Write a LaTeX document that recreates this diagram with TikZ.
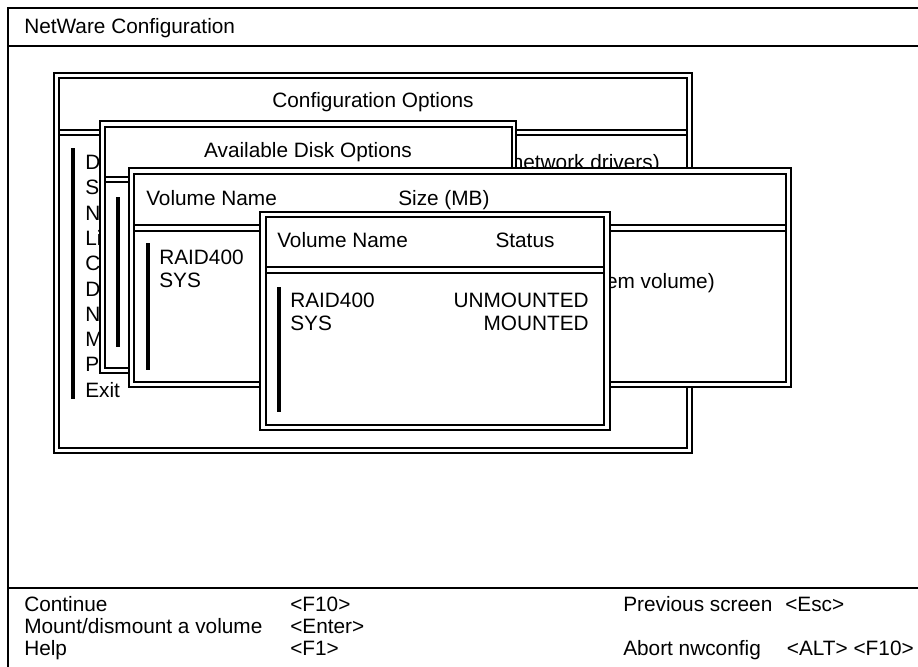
\documentclass[tikz,border=0pt]{standalone}
\usepackage{fontspec}
\setmainfont{Liberation Sans}
\usetikzlibrary{positioning}
\newcommand\scrfont{\fontsize{15.6}{18}\selectfont}
\tikzset{
  frameline/.style={line width=1.3pt},
  winline/.style={line width=0.95pt},
  winfill/.style={fill=white, line width=0.95pt},
  scrtext/.style={font=\scrfont, inner sep=0pt, anchor=base west},
  selbar/.style={line width=2.3pt},
}

\begin{document}
\begin{tikzpicture}[x=0.75pt, y=-0.75pt]
\useasboundingbox (0,0) rectangle (918,667);
% screen frame
\draw[frameline] (8,667) -- (8,8) -- (918,8);
\draw[frameline] (8,46) -- (918,46);
\draw[frameline] (8,588) -- (918,588);
\node[scrtext] (scrtitle) at (24,34) {NetWare Configuration};

% Configuration Options
\draw[winfill] (54,73) rectangle (692,453);
\draw[winline] (59,78) rectangle (687,448);
\draw[winline] (59,130) -- (687,130) (59,135) -- (687,135);
\node[scrtext, anchor=base] (cfgtitle) at (373,108) {Configuration Options};
\draw[selbar] (73,148) -- (73,399);
\foreach \entry [count=\i from 0] in {D,S,N,Li,C,D,N,M,P,Exit}
  \node[scrtext] (cfgitem\i) at (85,{169.5+25.3*\i}) {\entry};
\node[scrtext, anchor=base east] (cfgnet) at (660,169.5) {network drivers)};

% Available Disk Options
\draw[winfill] (100,121) rectangle (516,373);
\draw[winline] (105,127) rectangle (512,368);
\draw[winline] (105,177) -- (512,177) (105,182) -- (512,182);
\node[scrtext, anchor=base] (disktitle) at (308,157) {Available Disk Options};
\draw[selbar] (118,197) -- (118,347);

% Volume Name / Size
\draw[winfill] (129,168) rectangle (791,387);
\draw[winline] (134,174) rectangle (786,382);
\draw[winline] (134,225) -- (786,225) (134,231) -- (786,231);
\node[scrtext] (sizename) at (146,205.5) {Volume Name};
\node[scrtext] (sizehead) at (398,205.5) {Size (MB)};
\draw[selbar] (148,243) -- (148,370);
\node[scrtext] (sizeraid) at (159,264) {RAID400};
\node[scrtext] (sizesys) at (159,287) {SYS};
\node[scrtext, anchor=base east] (sizenote) at (715,288) {em volume)};

% Volume Name / Status
\draw[winfill] (260,212) rectangle (610,430);
\draw[winline] (266,217) rectangle (604,425);
\draw[winline] (266,267) -- (604,267) (266,273) -- (604,273);
\node[scrtext] (statname) at (277,247) {Volume Name};
\node[scrtext, anchor=base] (stathead) at (525,247) {Status};
\draw[selbar] (279,287) -- (279,412);
\node[scrtext] (statraid) at (290,307) {RAID400};
\node[scrtext] (statsys) at (290,330) {SYS};
\node[scrtext, anchor=base east] (statoff) at (589,307) {UNMOUNTED};
\node[scrtext, anchor=base east] (staton) at (589,330) {MOUNTED};

% key help
\node[scrtext] (keycont) at (24,611) {Continue};
\node[scrtext] (keymount) at (24,633) {Mount/dismount a volume};
\node[scrtext] (keyhelp) at (24,655) {Help};
\node[scrtext] (keyf10) at (290,611) {<F10>};
\node[scrtext] (keyenter) at (290,633) {<Enter>};
\node[scrtext] (keyf1) at (290,655) {<F1>};
\node[scrtext] (keyprev) at (623,611) {Previous screen};
\node[scrtext] (keyesc) at (785,611) {<Esc>};
\node[scrtext] (keyabort) at (623,655) {Abort nwconfig};
\node[scrtext, anchor=base east] (keyalt) at (914,655) {<ALT> <F10>};
\end{tikzpicture}
\end{document}
